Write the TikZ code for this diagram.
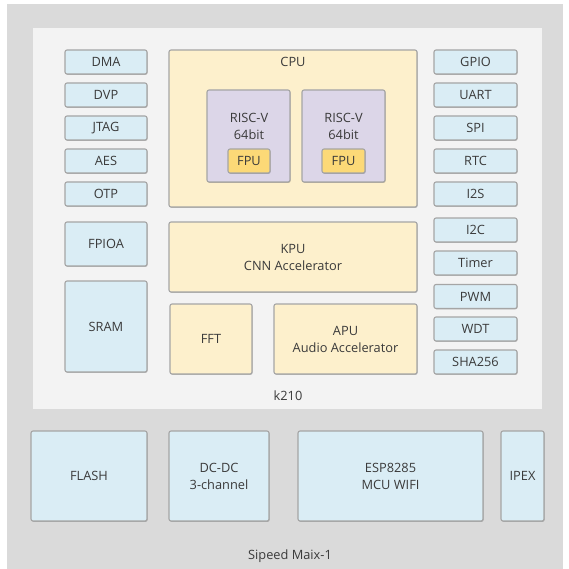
\documentclass[tikz,border=0pt]{standalone}
\usepackage{fontspec}
\setmainfont{Open Sans}
\usetikzlibrary{shadows}
\definecolor{outerbg}{HTML}{DADADA}
\definecolor{innerbg}{HTML}{F3F3F3}
\definecolor{bluefill}{HTML}{DAEDF5}
\definecolor{yellowfill}{HTML}{FDF0CC}
\definecolor{purplefill}{HTML}{DCD6E8}
\definecolor{fpufill}{HTML}{FCD977}
\definecolor{edge}{HTML}{A5A5A5}
\definecolor{txt}{HTML}{3A3A3A}
\begin{document}
\begin{tikzpicture}[x=1pt,y=-1pt,
  every node/.style={inner sep=0pt, text=txt, font=\fontsize{12.8}{17}\selectfont, align=center},
  box/.style={draw=edge, line width=1.1pt, rounded corners=2pt,
    drop shadow={shadow xshift=0.6pt, shadow yshift=-0.8pt, opacity=0.25, fill=black}},
  bluebox/.style={box, fill=bluefill},
  ybox/.style={box, fill=yellowfill},
  pbox/.style={box, fill=purplefill},
  fbox/.style={box, fill=fpufill},
  small/.style={minimum width=82pt, minimum height=24pt},
  rsmall/.style={minimum width=83pt, minimum height=24pt}]
\useasboundingbox (0,0) rectangle (568,569);
\fill[white] (0,0) rectangle (568,569);
\fill[outerbg] (7,4) rectangle (563,569);
\fill[innerbg] (33,28) rectangle (542,409);

% left column
\node[bluebox, small] (dma) at (106,62) {DMA};
\node[bluebox, small] (dvp) at (106,95) {DVP};
\node[bluebox, small] (jtag) at (106,128) {JTAG};
\node[bluebox, small] (aes) at (106,161) {AES};
\node[bluebox, small] (otp) at (106,194) {OTP};
\node[bluebox, minimum width=82pt, minimum height=44pt] (fpioa) at (106,244) {FPIOA};
\node[bluebox, minimum width=82pt, minimum height=91pt] (sram) at (106,326.5) {SRAM};

% CPU
\node[ybox, minimum width=248pt, minimum height=157pt] (cpu) at (293,128.5) {};
\node (cpulbl) at (293,62) {CPU};
\node[pbox, minimum width=83pt, minimum height=92pt] (risc1) at (248.5,136) {};
\node[pbox, minimum width=83pt, minimum height=92pt] (risc2) at (343.5,136) {};
\node (r1lbl) at (249,126.5) {RISC-V\\64bit};
\node (r2lbl) at (343.5,126.5) {RISC-V\\64bit};
\node[fbox, minimum width=42pt, minimum height=24pt] (fpu1) at (249,161) {FPU};
\node[fbox, minimum width=43pt, minimum height=24pt] (fpu2) at (343.5,161) {FPU};

% KPU, FFT, APU
\node[ybox, minimum width=248pt, minimum height=70pt] (kpu) at (293,257) {KPU\\CNN Accelerator};
\node[ybox, minimum width=82pt, minimum height=70pt] (fft) at (211,339) {FFT};
\node[ybox, minimum width=143pt, minimum height=70pt] (apu) at (345.5,339) {APU\\Audio Accelerator};

% right column
\node[bluebox, rsmall] (gpio) at (475.5,62) {GPIO};
\node[bluebox, rsmall] (uart) at (475.5,95) {UART};
\node[bluebox, rsmall] (spi) at (475.5,128) {SPI};
\node[bluebox, rsmall] (rtc) at (475.5,161) {RTC};
\node[bluebox, rsmall] (i2s) at (475.5,194) {I2S};
\node[bluebox, rsmall] (i2c) at (475.5,230) {I2C};
\node[bluebox, rsmall] (timer) at (475.5,263) {Timer};
\node[bluebox, rsmall] (pwm) at (475.5,296.5) {PWM};
\node[bluebox, rsmall] (wdt) at (475.5,329) {WDT};
\node[bluebox, rsmall] (sha) at (475.5,362) {SHA256};

\node (k210) at (288,396) {k210};

% bottom row
\node[bluebox, minimum width=116pt, minimum height=90pt] (flash) at (89,476) {FLASH};
\node[bluebox, minimum width=100pt, minimum height=90pt] (dcdc) at (219,476) {DC-DC\\3-channel};
\node[bluebox, minimum width=185pt, minimum height=90pt] (esp) at (390.5,476) {ESP8285\\MCU WIFI};
\node[bluebox, minimum width=43pt, minimum height=90pt] (ipex) at (522.5,476) {IPEX};

\node (maix) at (290,556) {Sipeed Maix-1};
\end{tikzpicture}
\end{document}
